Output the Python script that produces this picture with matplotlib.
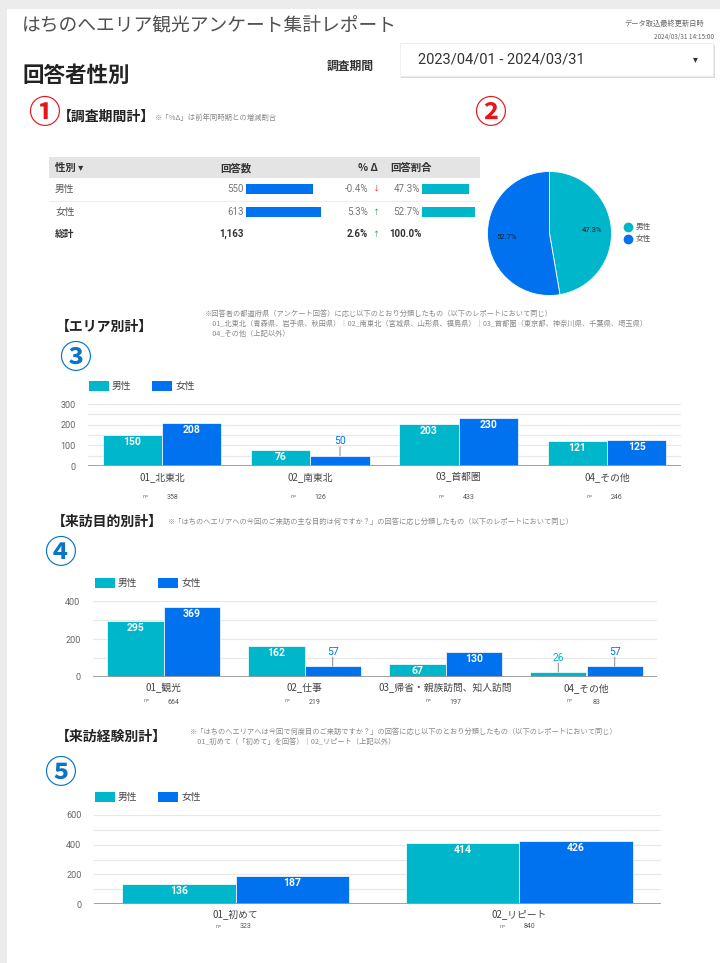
import matplotlib
matplotlib.use("Agg")
import matplotlib.pyplot as plt
from matplotlib.patches import Rectangle
from matplotlib.lines import Line2D
import numpy as np

plt.rcParams['font.family'] = ['Noto Sans CJK JP', 'DejaVu Sans']

W, H = 720, 963
TEAL = '#00b6cb'
BLUE = '#0072f0'
NUM = ['Roboto', 'Noto Sans CJK JP', 'DejaVu Sans']

# ---- data ----
gender = ['男性', '女性']
gender_count = [550, 613]
gender_delta = ['-0.4%', '5.3%']
gender_up = [False, True]
gender_share = [47.3, 52.7]
total_count = '1,163'
total_delta = '2.6%'
total_share = '100.0%'

area_cats = ['01_北東北', '02_南東北', '03_首都圏', '04_その他']
area_male = [150, 76, 203, 121]
area_female = [208, 50, 230, 125]
area_n = [358, 126, 433, 246]

purpose_cats = ['01_観光', '02_仕事', '03_帰省・親族訪問、知人訪問', '04_その他']
purpose_male = [295, 162, 67, 26]
purpose_female = [369, 57, 130, 57]
purpose_n = [664, 219, 197, 83]

visit_cats = ['01_初めて', '02_リピート']
visit_male = [136, 414]
visit_female = [187, 426]
visit_n = [323, 840]

fig = plt.figure(figsize=(W / 100, H / 100), dpi=100)
fig.patch.set_facecolor('#ececec')


def fx(x):
    return x / W


def fy(y):
    return 1 - y / H


def txt(x, y, s, **kw):
    kw.setdefault('va', 'center')
    fig.text(fx(x), fy(y), s, **kw)


def box(x0, y0, x1, y1, **kw):
    fig.patches.append(Rectangle((fx(x0), fy(y1)), (x1 - x0) / W, (y1 - y0) / H,
                                 transform=fig.transFigure, **kw))


def hline(x0, x1, y, **kw):
    fig.add_artist(Line2D([fx(x0), fx(x1)], [fy(y), fy(y)], transform=fig.transFigure, **kw))


def add_ax(x0, y0, x1, y1):
    ax = fig.add_axes([fx(x0), fy(y1), (x1 - x0) / W, (y1 - y0) / H])
    ax.set_facecolor('none')
    return ax


# page
box(7, 9, 720, 963, facecolor='white', edgecolor='none', zorder=-2)

# header
txt(22, 25, 'はちのへエリア観光アンケート集計レポート', fontsize=13.5, color='#505050')
txt(704, 24, 'データ取込最終更新日時', fontsize=5.2, color='#666', ha='right')
txt(714, 37, '2024/03/31 14:15:00', fontsize=4.6, color='#666', ha='right')
txt(22, 75, '回答者性別', fontsize=15.5, weight='bold', color='#222')
txt(327, 66, '調査期間', fontsize=8.5, weight='bold', color='#333')
box(401, 45, 715, 78, facecolor='#d9d9d9', edgecolor='none', zorder=-1)
box(400, 43, 713, 76, facecolor='white', edgecolor='#ececec', lw=0.6, zorder=-1)
txt(418, 60, '2023/04/01 - 2024/03/31', fontsize=10.5, color='#333', family=NUM)
txt(693, 59, '▾', fontsize=7, color='#333', family=['DejaVu Sans'])

# circled numbers
CIRC = dict(fontsize=23, weight='bold', ha='center')
txt(44, 114, '①', color='#e8161b', **CIRC)
txt(490, 114, '②', color='#e8161b', **CIRC)
txt(75, 359, '③', color='#0a74c9', **CIRC)
txt(60, 554, '④', color='#0a74c9', **CIRC)
txt(60, 774, '⑤', color='#0a74c9', **CIRC)

# ---- section 1 : table ----
txt(58, 117, '【調査期間計】', fontsize=10, weight='bold', color='#222')
txt(155, 118, '※「%Δ」は前年同時期との増減割合', fontsize=5.3, color='#888')

box(49, 157, 480, 178, facecolor='#e4e4e4', edgecolor='none', zorder=-1)
txt(55, 168, '性別 ▾', fontsize=7.5, weight='bold', color='#333')
txt(220, 168, '回答数', fontsize=7.5, weight='bold', color='#333')
txt(378, 168, '% Δ', fontsize=7.5, weight='bold', color='#333', ha='right')
txt(390, 168, '回答割合', fontsize=7.5, weight='bold', color='#333')
hline(49, 480, 201, color='#eeeeee', lw=0.8)

for i, g in enumerate(gender):
    y = 189 + 23 * i
    txt(55, y, g, fontsize=7, color='#555')
    txt(244, y, str(gender_count[i]), fontsize=7, color='#777', ha='right', family=NUM)
    txt(368, y, gender_delta[i], fontsize=7, color='#777', ha='right', family=NUM)
    txt(372, y, '↑' if gender_up[i] else '↓', fontsize=5,
        color='#1e9e4a' if gender_up[i] else '#e53935')
    txt(420, y, f'{gender_share[i]}%', fontsize=7, color='#777', ha='right', family=NUM)

txt(55, 234, '総計', fontsize=7, weight='bold', color='#333')
txt(244, 234, total_count, fontsize=7, weight='bold', color='#333', ha='right', family=NUM)
txt(368, 234, total_delta, fontsize=7, weight='bold', color='#333', ha='right', family=NUM)
txt(372, 234, '↑', fontsize=5, color='#1e9e4a')
txt(421, 234, total_share, fontsize=7, weight='bold', color='#333', ha='right', family=NUM)

axc = add_ax(246, 177.5, 321, 223.5)
axc.barh(range(len(gender)), gender_count, height=0.43, color=BLUE)
axc.set_xlim(0, max(gender_count))
axc.set_ylim(1.5, -0.5)
axc.axis('off')

axs = add_ax(422, 177.5, 522, 223.5)
axs.barh(range(len(gender)), gender_share, height=0.43, color=TEAL)
axs.set_xlim(0, 100)
axs.set_ylim(1.5, -0.5)
axs.axis('off')

# ---- pie ----
axp = add_ax(487, 171.5, 612, 295.5)
axp.pie(gender_share, colors=[TEAL, BLUE], startangle=90, counterclock=False,
        autopct='%.1f%%', pctdistance=0.69,
        wedgeprops=dict(linewidth=0.6, edgecolor='white'),
        textprops=dict(fontsize=5.5, color='#222', family=NUM))
axp.set_xlim(-1, 1)
axp.set_ylim(-1, 1)
for j, g in enumerate(gender):
    fig.add_artist(Line2D([fx(628)], [fy(227 + 12 * j)], marker='o', markersize=6,
                          color=[TEAL, BLUE][j], transform=fig.transFigure))
    txt(636, 227 + 12 * j, g, fontsize=5.5, color='#555')


# ---- bar charts ----
def legend(x, y):
    box(x, y - 5, x + 20, y + 5, facecolor=TEAL, edgecolor='none')
    txt(x + 23, y, '男性', fontsize=7, color='#444')
    box(x + 63, y - 5, x + 83, y + 5, facecolor=BLUE, edgecolor='none')
    txt(x + 86, y, '女性', fontsize=7, color='#444')


def bar_chart(x0, x1, ytop, ybot, ymax, step, cats, male, female, n, cat_y, n_y):
    ax = add_ax(x0, ytop, x1, ybot)
    idx = np.arange(len(cats))
    w = 0.4
    ax.bar(idx - w / 2, male, w, color=TEAL, zorder=3, lw=0.5, edgecolor='white')
    ax.bar(idx + w / 2, female, w, color=BLUE, zorder=3, lw=0.5, edgecolor='white')
    ax.set_xlim(-0.5, len(cats) - 0.5)
    ax.set_ylim(0, ymax)
    ax.set_yticks(np.arange(0, ymax + 1, step * 2))
    ax.set_yticks(np.arange(step, ymax, step * 2), minor=True)
    ax.grid(which='both', axis='y', color='#e8e8e8', lw=0.9, zorder=0)
    ax.axhline(0, color='#9a9a9a', lw=1.3, zorder=4)
    for s in ax.spines.values():
        s.set_visible(False)
    ax.tick_params(axis='y', which='both', length=0, labelsize=6.5, labelcolor='#666', pad=9)
    ax.set_xticks([])
    for t in ax.get_yticklabels():
        t.set_family(NUM)
    ppu = (ybot - ytop) / ymax
    for vals, off, col in ((male, -w / 2, TEAL), (female, w / 2, BLUE)):
        for i, v in enumerate(vals):
            if v * ppu > 12:
                ax.annotate(str(v), (i + off, v), xytext=(0, -7 * 0.72), textcoords='offset points',
                            ha='center', va='center', color='white', fontsize=7.5,
                            weight='bold', family=NUM, zorder=5)
            else:
                ax.annotate('', (i + off, v), xytext=(0, 9 * 0.72), textcoords='offset points',
                            arrowprops=dict(arrowstyle='-', color='#888', lw=0.7,
                                            shrinkA=0, shrinkB=0), zorder=5)
                ax.annotate(str(v), (i + off, v), xytext=(0, 14.5 * 0.72), textcoords='offset points',
                            ha='center', va='center', color=col, fontsize=7.5,
                            family=NUM, zorder=5)
    for i, c in enumerate(cats):
        ax.annotate(c, (i, 0), xytext=(0, -(cat_y - ybot) * 0.72), textcoords='offset points',
                    ha='center', va='center', fontsize=7, color='#444', annotation_clip=False)
        ax.annotate('n=', (i, 0), xytext=(-17 * 0.72, -(n_y - 1 - ybot) * 0.72),
                    textcoords='offset points', ha='center', va='center', fontsize=3.8,
                    color='#666', annotation_clip=False)
        ax.annotate(str(n[i]), (i, 0), xytext=(10 * 0.72, -(n_y - ybot) * 0.72),
                    textcoords='offset points', ha='center', va='center', fontsize=5,
                    color='#555', family=NUM, annotation_clip=False)
    return ax


# section 3
txt(56, 327, '【エリア別計】', fontsize=10, weight='bold', color='#222')
txt(205, 314, '※回答者の都道府県（アンケート回答）に応じ以下のとおり分類したもの（以下のレポートにおいて同じ）',
    fontsize=5.2, color='#888')
txt(205, 324, '　01_北東北（青森県、岩手県、秋田県）｜02_南東北（宮城県、山形県、福島県）｜03_首都圏（東京都、神奈川県、千葉県、埼玉県）',
    fontsize=5.2, color='#888')
txt(205, 334, '　04_その他（上記以外）', fontsize=5.2, color='#888')
legend(89, 386)
bar_chart(88, 681, 404, 466, 300, 50, area_cats, area_male, area_female, area_n, 477, 497)

# section 4
txt(52, 522, '【来訪目的別計】', fontsize=10, weight='bold', color='#222')
txt(168, 522, '※「はちのへエリアへの今回のご来訪の主な目的は何ですか？」の回答に応じ分類したもの（以下のレポートにおいて同じ）',
    fontsize=5.2, color='#888')
legend(95, 583)
bar_chart(93, 657, 601, 677, 400, 100, purpose_cats, purpose_male, purpose_female, purpose_n, 688, 702)

# section 5
txt(56, 737, '【来訪経験別計】', fontsize=10, weight='bold', color='#222')
txt(190, 732, '※「はちのへエリアへは今回で何度目のご来訪ですか？」の回答に応じ以下のとおり分類したもの（以下のレポートにおいて同じ）',
    fontsize=5.2, color='#888')
txt(190, 742, '　01_初めて（「初めて」を回答）｜02_リピート（上記以外）', fontsize=5.2, color='#888')
legend(95, 797)
bar_chart(94, 661, 815, 904, 600, 100, visit_cats, visit_male, visit_female, visit_n, 914, 927)

fig.savefig('out.png', dpi=100, facecolor=fig.get_facecolor())
